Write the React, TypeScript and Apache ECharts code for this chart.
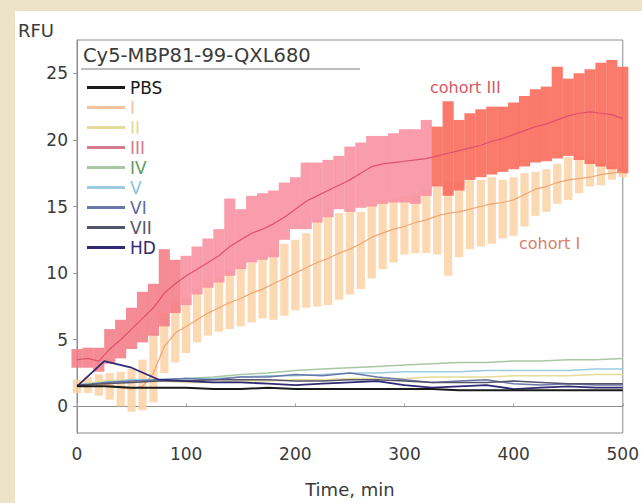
import React, { useEffect, useRef } from 'react';
import * as echarts from 'echarts';

const TIME = [0, 10, 20, 30, 40, 50, 60, 70, 80, 90, 100, 110, 120, 130, 140, 150, 160, 170, 180, 190, 200, 210, 220, 230, 240, 250, 260, 270, 280, 290, 300, 310, 320, 330, 340, 350, 360, 370, 380, 390, 400, 410, 420, 430, 440, 450, 460, 470, 480, 490, 500];

const III_MEAN = [3.5, 3.6, 3.4, 4.3, 5.0, 5.8, 6.6, 7.4, 8.5, 9.2, 9.8, 10.3, 10.8, 11.3, 12.0, 12.5, 13.0, 13.3, 13.7, 14.2, 14.8, 15.4, 15.8, 16.2, 16.6, 17.0, 17.5, 18.0, 18.2, 18.3, 18.4, 18.5, 18.6, 18.8, 19.0, 19.2, 19.4, 19.6, 19.9, 20.1, 20.4, 20.7, 21.0, 21.2, 21.5, 21.8, 22.0, 22.1, 22.0, 21.9, 21.6];
const III_LOW = [2.9, 2.9, 2.6, 3.2, 3.6, 4.3, 4.8, 5.3, 6.0, 7.0, 7.6, 8.4, 8.9, 9.3, 9.8, 10.3, 10.8, 11.0, 11.2, 12.5, 13.3, 13.3, 13.8, 14.2, 14.8, 14.6, 14.9, 15.0, 15.2, 15.3, 15.3, 15.2, 15.8, 16.5, 15.8, 16.2, 17.0, 17.2, 17.4, 17.6, 17.8, 18.0, 18.3, 18.4, 18.6, 18.8, 18.5, 18.2, 18.0, 17.8, 17.5];
const III_HIGH = [4.3, 4.4, 4.4, 5.8, 6.5, 7.4, 8.6, 9.2, 11.8, 11.0, 11.3, 12.0, 12.6, 13.3, 15.6, 14.8, 15.8, 16.0, 16.2, 16.8, 17.2, 18.3, 18.3, 18.5, 18.8, 19.5, 19.8, 20.3, 20.3, 20.5, 20.8, 20.8, 21.5, 21.0, 22.9, 21.5, 22.0, 22.3, 22.5, 22.5, 22.8, 23.3, 23.8, 24.0, 25.5, 24.6, 25.0, 25.3, 25.8, 26.0, 25.5];

const I_MEAN = [1.5, 1.6, 1.7, 1.6, 1.4, 1.3, 1.5, 2.5, 4.5, 5.5, 6.0, 6.5, 7.0, 7.4, 7.8, 8.1, 8.5, 8.8, 9.2, 9.6, 10.0, 10.4, 10.8, 11.1, 11.5, 11.8, 12.2, 12.7, 13.0, 13.3, 13.5, 13.8, 14.0, 14.3, 14.5, 14.6, 14.8, 15.0, 15.2, 15.3, 15.5, 15.9, 16.3, 16.5, 16.8, 17.0, 17.1, 17.2, 17.4, 17.5, 17.6];
const I_LOW = [1.0, 1.0, 0.8, 0.5, 0.0, -0.4, -0.3, 0.3, 2.5, 3.3, 4.0, 4.8, 5.3, 5.6, 5.8, 6.0, 6.3, 6.6, 6.5, 6.8, 7.2, 7.4, 7.5, 7.6, 8.0, 8.4, 8.8, 9.6, 10.3, 10.8, 11.4, 11.5, 11.5, 11.4, 9.8, 11.2, 11.8, 12.0, 12.2, 12.6, 12.8, 13.5, 14.3, 14.6, 15.2, 15.5, 16.0, 16.5, 16.6, 17.0, 17.2];
const I_HIGH = [2.0, 2.2, 2.4, 2.5, 2.6, 2.8, 3.5, 5.5, 7.0, 7.8, 8.2, 8.8, 9.3, 9.7, 10.2, 10.5, 10.8, 11.2, 11.8, 12.2, 12.5, 13.0, 14.0, 14.3, 14.5, 14.8, 14.6, 15.2, 15.5, 15.6, 15.8, 16.0, 16.3, 16.5, 16.8, 16.8, 17.0, 17.0, 17.2, 17.0, 17.2, 17.5, 17.6, 17.8, 18.2, 18.7, 18.8, 18.5, 18.3, 18.0, 17.8];

const BASE_TIME = [0, 25, 50, 75, 100, 125, 150, 175, 200, 225, 250, 275, 300, 325, 350, 375, 400, 425, 450, 475, 500];
const PBS = [1.5, 1.5, 1.4, 1.4, 1.4, 1.3, 1.3, 1.4, 1.3, 1.3, 1.3, 1.3, 1.3, 1.3, 1.2, 1.2, 1.2, 1.2, 1.2, 1.2, 1.2];
const II = [1.6, 1.9, 2.0, 1.9, 1.8, 1.8, 1.9, 1.9, 2.0, 2.0, 2.1, 2.1, 2.1, 2.2, 2.2, 2.2, 2.3, 2.3, 2.3, 2.4, 2.4];
const IV = [1.6, 1.8, 1.9, 2.0, 2.1, 2.2, 2.4, 2.5, 2.7, 2.8, 2.9, 3.0, 3.1, 3.2, 3.3, 3.3, 3.4, 3.4, 3.5, 3.5, 3.6];
const V = [1.6, 1.8, 2.0, 2.0, 2.1, 2.1, 2.2, 2.3, 2.3, 2.4, 2.5, 2.5, 2.6, 2.6, 2.6, 2.7, 2.7, 2.7, 2.7, 2.8, 2.8];
const VI = [1.5, 1.8, 1.9, 2.0, 2.1, 2.0, 2.2, 2.2, 2.4, 2.3, 2.5, 2.2, 2.0, 1.8, 1.9, 2.0, 1.7, 1.6, 1.7, 1.6, 1.6];
const VII = [1.6, 1.7, 1.8, 1.9, 1.9, 2.0, 2.0, 2.0, 1.9, 1.9, 2.0, 2.0, 1.9, 1.8, 1.8, 1.8, 1.9, 1.8, 1.7, 1.7, 1.7];
const HD = [1.5, 3.4, 2.9, 2.0, 1.9, 1.8, 1.8, 1.7, 1.6, 1.7, 1.8, 1.9, 1.6, 1.4, 1.5, 1.6, 1.3, 1.4, 1.5, 1.4, 1.4];

const LEGEND_NAMES = ['PBS', 'I', 'II', 'III', 'IV', 'V', 'VI', 'VII', 'HD'];
const LEGEND_COLORS = ['#1a1a1a', '#f3c3a0', '#e4dc98', '#d7798f', '#5e9c62', '#86c4de', '#5d6aa0', '#55556a', '#2f2a72'];

const FONT = 'DejaVu Sans';

export default function App() {
  const ref = useRef<HTMLDivElement>(null);
  useEffect(() => {
    if (!ref.current) return;
    const chart = echarts.init(ref.current, null, { renderer: 'svg' });
    const bandRender = (widthMin: number, colorFn: (t: number) => string) => (params: any, api: any) => {
      const t = api.value(0);
      const lo = api.value(1);
      const hi = api.value(2);
      const p1 = api.coord([t, hi]);
      const p2 = api.coord([t, lo]);
      const w = api.size([widthMin, 0])[0];
      return {
        type: 'rect',
        shape: { x: p1[0] - w / 2, y: p1[1], width: w, height: p2[1] - p1[1] },
        style: { fill: colorFn(t) },
      };
    };
    const lineSeries = (name: string, data: number[], color: string, width: number) => ({
      name,
      type: 'line',
      data: BASE_TIME.map((t, i) => [t, data[i]]),
      showSymbol: false,
      symbol: 'none',
      lineStyle: { color, width },
      itemStyle: { color },
      z: 5,
      silent: true,
    });
    chart.setOption({
      animation: false,
      backgroundColor: 'transparent',
      grid: { left: 77, right: 12, top: 40, bottom: 70, show: true, borderColor: '#8c8c8c', borderWidth: 1, backgroundColor: 'transparent' },
      xAxis: {
        type: 'value', min: 0, max: 500, interval: 100,
        name: 'Time, min', nameLocation: 'middle', nameGap: 47,
        nameTextStyle: { fontFamily: FONT, fontSize: 18, color: '#3a3a3a' },
        axisLine: { show: true, lineStyle: { color: '#8c8c8c' } },
        axisTick: { show: true, inside: true, length: 3, lineStyle: { color: '#aaa' } },
        axisLabel: { fontFamily: FONT, fontSize: 17, color: '#3a3a3a', margin: 12 },
        splitLine: { show: false },
      },
      yAxis: {
        type: 'value', min: -2, max: 27.5, splitNumber: 5,
        axisLine: { show: true, lineStyle: { color: '#8c8c8c' } },
        axisTick: { show: true, length: 4, lineStyle: { color: '#999' } },
        axisLabel: {
          fontFamily: FONT, fontSize: 17, color: '#3a3a3a', margin: 9,
          showMinLabel: false, showMaxLabel: false,
          formatter: (v: number) => (v % 5 === 0 ? String(v) : ''),
        },
        splitLine: { show: false },
      },
      legend: {
        orient: 'vertical', left: 82, top: 74,
        itemWidth: 38, itemHeight: 3, itemGap: 3, icon: 'rect',
        textStyle: { fontFamily: FONT, fontSize: 17, lineHeight: 17 },
        data: LEGEND_NAMES.map((n, i) => ({ name: n, textStyle: { color: LEGEND_COLORS[i] } })),
        selectedMode: false,
      },
      graphic: [
        { type: 'text', left: 83, top: 45, style: { text: 'Cy5-MBP81-99-QXL680', font: `19.5px "${FONT}"`, fill: '#3a3a3a' } },
        { type: 'line', shape: { x1: 81, y1: 69, x2: 360, y2: 69 }, style: { stroke: '#7a7a7a', lineWidth: 1 } },
        { type: 'text', left: 18, top: 21, style: { text: 'RFU', font: `18px "${FONT}"`, fill: '#3a3a3a' } },
        { type: 'text', left: 430, top: 79, style: { text: 'cohort III', font: `16px "${FONT}"`, fill: '#d85866' } },
        { type: 'text', left: 519, top: 235, style: { text: 'cohort I', font: `16px "${FONT}"`, fill: '#d8806a' } },
      ],
      series: [
        {
          name: 'I band', type: 'custom', silent: true, z: 1,
          data: TIME.map((t, i) => [t, I_LOW[i], I_HIGH[i]]),
          renderItem: bandRender(7.6, () => 'rgba(252, 212, 168, 0.88)'),
        },
        {
          name: 'III band', type: 'custom', silent: true, z: 2,
          data: TIME.map((t, i) => [t, III_LOW[i], III_HIGH[i]]),
          renderItem: bandRender(10.2, (t) => (t >= 330 ? 'rgba(250, 108, 92, 0.9)' : t < 100 ? 'rgba(244, 124, 134, 0.88)' : 'rgba(248, 144, 160, 0.88)')),
        },
        {
          name: 'I', type: 'line', data: TIME.map((t, i) => [t, I_MEAN[i]]), showSymbol: false, symbol: 'none',
          lineStyle: { color: '#eea676', width: 1.2 }, itemStyle: { color: '#f3c3a0' }, z: 4, silent: true,
        },
        {
          name: 'III', type: 'line', data: TIME.map((t, i) => [t, III_MEAN[i]]), showSymbol: false, symbol: 'none',
          lineStyle: { color: '#e0506c', width: 1.2 }, itemStyle: { color: '#d7798f' }, z: 4, silent: true,
        },
        lineSeries('II', II, '#e4dc98', 1.5),
        lineSeries('IV', IV, '#a9c7a2', 1.5),
        lineSeries('V', V, '#9ccbe0', 1.5),
        lineSeries('VI', VI, '#6a76a8', 1.5),
        lineSeries('VII', VII, '#55556a', 1.5),
        lineSeries('HD', HD, '#2f2a72', 1.8),
        lineSeries('PBS', PBS, '#1a1a1a', 2),
      ],
    });
    return () => chart.dispose();
  }, []);
  return (
    <div style={{ position: 'fixed', left: 0, top: 0, width: 642, height: 503, background: '#ede3c8' }}>
      <div style={{ position: 'absolute', left: 15, top: 11, right: 0, bottom: 0, background: '#ffffff' }} />
      <div ref={ref} style={{ position: 'absolute', left: 0, top: 0, width: 642, height: 503 }} />
    </div>
  );
}
